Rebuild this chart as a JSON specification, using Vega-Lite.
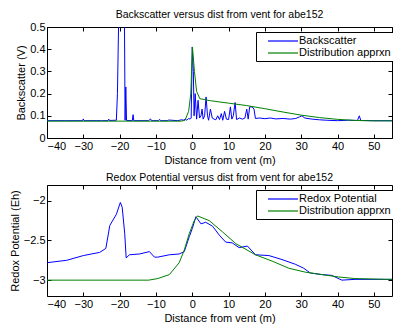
{
  "$schema": "https://vega.github.io/schema/vega-lite/v6.json",
  "padding": {"left": 8, "top": 9, "right": 1, "bottom": 0},
  "background": "white",
  "spacing": 6,
  "config": {
    "font": "Liberation Sans",
    "view": {"stroke": "black", "strokeWidth": 1},
    "axis": {
      "grid": false,
      "domain": false,
      "labelFontSize": 11,
      "labelColor": "black",
      "titleFontSize": 11,
      "titleFontWeight": "normal",
      "titleColor": "black",
      "tickColor": "black",
      "tickSize": -4,
      "labelPadding": 6,
      "titlePadding": 3
    },
    "title": {"fontSize": 10.5, "fontWeight": "normal", "color": "black", "offset": 1},
    "legend": {
      "orient": "none",
      "legendX": 209,
      "legendY": 5,
      "strokeColor": "black",
      "fillColor": "white",
      "padding": 3,
      "symbolType": "M-3,0H3",
      "symbolSize": 100,
      "symbolStrokeWidth": 1.2,
      "labelFontSize": 11,
      "labelColor": "black",
      "labelOffset": 10,
      "rowPadding": 1,
      "symbolOffset": 18
    }
  },
  "datasets": {
    "bs_blue": [
      {"d": -40, "v": 0.078}, {"d": -35, "v": 0.078}, {"d": -30.2, "v": 0.078}, {"d": -30, "v": 0.086}, {"d": -29.8, "v": 0.078},
      {"d": -25, "v": 0.078}, {"d": -23.2, "v": 0.078}, {"d": -23, "v": 0.085}, {"d": -22.8, "v": 0.079}, {"d": -20.9, "v": 0.08},
      {"d": -20.6, "v": 0.2}, {"d": -20.2, "v": 0.6}, {"d": -19.5, "v": 0.9}, {"d": -18.7, "v": 0.6}, {"d": -18.5, "v": 0.08},
      {"d": -18.3, "v": 0.23}, {"d": -18.1, "v": 0.079}, {"d": -16.5, "v": 0.078}, {"d": -16.3, "v": 0.105}, {"d": -16.1, "v": 0.078},
      {"d": -12, "v": 0.078}, {"d": -11.5, "v": 0.086}, {"d": -11.2, "v": 0.078}, {"d": -9.3, "v": 0.078}, {"d": -9, "v": 0.084},
      {"d": -8.7, "v": 0.078}, {"d": -6.7, "v": 0.078}, {"d": -6.5, "v": 0.081}, {"d": -4, "v": 0.078}, {"d": -3, "v": 0.082},
      {"d": -2.2, "v": 0.08}, {"d": -2, "v": 0.086}, {"d": -1.5, "v": 0.08}, {"d": -1, "v": 0.088}, {"d": -0.6, "v": 0.085},
      {"d": -0.3, "v": 0.09}, {"d": 0, "v": 0.41}, {"d": 0.3, "v": 0.3}, {"d": 0.5, "v": 0.1}, {"d": 0.8, "v": 0.2},
      {"d": 1.2, "v": 0.085}, {"d": 1.6, "v": 0.17}, {"d": 2.0, "v": 0.09}, {"d": 2.4, "v": 0.1}, {"d": 2.7, "v": 0.13},
      {"d": 3.0, "v": 0.085}, {"d": 3.4, "v": 0.1}, {"d": 3.8, "v": 0.185}, {"d": 4.2, "v": 0.1}, {"d": 4.5, "v": 0.08},
      {"d": 5.0, "v": 0.13}, {"d": 5.5, "v": 0.09}, {"d": 6.0, "v": 0.085}, {"d": 6.5, "v": 0.082}, {"d": 7.0, "v": 0.1},
      {"d": 7.5, "v": 0.083}, {"d": 8.0, "v": 0.11}, {"d": 8.4, "v": 0.08}, {"d": 8.9, "v": 0.12}, {"d": 9.4, "v": 0.085},
      {"d": 10.0, "v": 0.083}, {"d": 10.5, "v": 0.14}, {"d": 10.9, "v": 0.085}, {"d": 11.3, "v": 0.1}, {"d": 11.8, "v": 0.16},
      {"d": 12.2, "v": 0.083}, {"d": 13, "v": 0.09}, {"d": 13.8, "v": 0.085}, {"d": 14.5, "v": 0.09}, {"d": 15, "v": 0.13},
      {"d": 15.4, "v": 0.085}, {"d": 15.8, "v": 0.14}, {"d": 16.5, "v": 0.14}, {"d": 17, "v": 0.13}, {"d": 17.4, "v": 0.088},
      {"d": 18.5, "v": 0.09}, {"d": 20, "v": 0.087}, {"d": 21.5, "v": 0.09}, {"d": 23, "v": 0.086}, {"d": 25, "v": 0.088},
      {"d": 27, "v": 0.085}, {"d": 28.5, "v": 0.088}, {"d": 29.5, "v": 0.095}, {"d": 30.2, "v": 0.1}, {"d": 31, "v": 0.09},
      {"d": 33, "v": 0.085}, {"d": 35, "v": 0.082}, {"d": 37, "v": 0.08}, {"d": 40, "v": 0.078}, {"d": 43, "v": 0.08},
      {"d": 45.5, "v": 0.079}, {"d": 46, "v": 0.1}, {"d": 46.4, "v": 0.079}, {"d": 50, "v": 0.078}, {"d": 55, "v": 0.078}
    ],
    "bs_green": [
      {"d": -40, "v": 0.076}, {"d": -3, "v": 0.076}, {"d": -2, "v": 0.08}, {"d": -1, "v": 0.12}, {"d": -0.4, "v": 0.2},
      {"d": 0.05, "v": 0.41}, {"d": 0.6, "v": 0.3}, {"d": 1.2, "v": 0.21}, {"d": 2.1, "v": 0.177}, {"d": 5, "v": 0.168},
      {"d": 10, "v": 0.157}, {"d": 15, "v": 0.146}, {"d": 20, "v": 0.132}, {"d": 25, "v": 0.117}, {"d": 30, "v": 0.103},
      {"d": 35, "v": 0.092}, {"d": 40, "v": 0.084}, {"d": 45, "v": 0.079}, {"d": 50, "v": 0.077}, {"d": 55, "v": 0.077}
    ],
    "rx_blue": [
      {"d": -40, "v": -2.78}, {"d": -34.6, "v": -2.75}, {"d": -30, "v": -2.69}, {"d": -25.5, "v": -2.65}, {"d": -23.8, "v": -2.6},
      {"d": -22.7, "v": -2.31}, {"d": -20.9, "v": -2.17}, {"d": -19.8, "v": -2.02}, {"d": -19.3, "v": -2.08}, {"d": -18.6, "v": -2.41},
      {"d": -18.2, "v": -2.72}, {"d": -17.3, "v": -2.68}, {"d": -14.5, "v": -2.67}, {"d": -11.8, "v": -2.64}, {"d": -10.4, "v": -2.71},
      {"d": -9.5, "v": -2.71}, {"d": -6.3, "v": -2.68}, {"d": -3.6, "v": -2.67}, {"d": -2.2, "v": -2.64}, {"d": -0.8, "v": -2.45},
      {"d": 0.0, "v": -2.35}, {"d": 1.0, "v": -2.2}, {"d": 2.4, "v": -2.29}, {"d": 3.7, "v": -2.27}, {"d": 5.6, "v": -2.32},
      {"d": 7.4, "v": -2.43}, {"d": 9.2, "v": -2.52}, {"d": 11.0, "v": -2.53}, {"d": 12.9, "v": -2.59}, {"d": 15.2, "v": -2.57},
      {"d": 17.4, "v": -2.68}, {"d": 21.1, "v": -2.69}, {"d": 24.7, "v": -2.74}, {"d": 28.4, "v": -2.8}, {"d": 30.7, "v": -2.85},
      {"d": 32.5, "v": -2.91}, {"d": 35.7, "v": -2.93}, {"d": 38.4, "v": -2.94}, {"d": 41.2, "v": -3.0}, {"d": 44.8, "v": -2.99},
      {"d": 51.2, "v": -2.99}, {"d": 55, "v": -2.99}
    ],
    "rx_green": [
      {"d": -40, "v": -3.0}, {"d": -12, "v": -3.0}, {"d": -9.5, "v": -2.98}, {"d": -6.3, "v": -2.93}, {"d": -3.6, "v": -2.78},
      {"d": -2.2, "v": -2.62}, {"d": -0.8, "v": -2.41}, {"d": 0.55, "v": -2.25}, {"d": 1.45, "v": -2.19}, {"d": 4.7, "v": -2.25},
      {"d": 8.3, "v": -2.39}, {"d": 12.0, "v": -2.54}, {"d": 17.4, "v": -2.68}, {"d": 22, "v": -2.76}, {"d": 26.6, "v": -2.85},
      {"d": 31.2, "v": -2.9}, {"d": 35.7, "v": -2.93}, {"d": 40.3, "v": -2.96}, {"d": 44.8, "v": -2.98}, {"d": 53.5, "v": -2.99},
      {"d": 55, "v": -2.99}
    ]
  },
  "vconcat": [
    {
      "title": "Backscatter versus dist from vent for abe152",
      "width": 345,
      "height": 111,
      "resolve": {"axis": {"x": "independent", "y": "independent"}},
      "layer": [
        {
          "data": {"name": "bs_blue"},
          "mark": {"type": "line", "clip": true, "strokeWidth": 1},
          "encoding": {
            "x": {"field": "d", "type": "quantitative", "scale": {"domain": [-40, 55], "nice": false, "zero": false},
                  "axis": {"orient": "bottom", "values": [-40, -30, -20, -10, 0, 10, 20, 30, 40, 50], "title": "Distance from vent (m)"}},
            "y": {"field": "v", "type": "quantitative", "scale": {"domain": [0, 0.5], "nice": false},
                  "axis": {"orient": "left", "values": [0, 0.1, 0.2, 0.3, 0.4, 0.5], "format": "~g", "title": "Backscatter (V)"}},
            "color": {"datum": "Backscatter", "type": "nominal",
                      "scale": {"domain": ["Backscatter", "Distribution apprxn"], "range": ["#0000ff", "#008000"]},
                      "legend": {"title": null}}
          }
        },
        {
          "data": {"name": "bs_green"},
          "mark": {"type": "line", "clip": true, "strokeWidth": 1},
          "encoding": {
            "x": {"field": "d", "type": "quantitative",
                  "axis": {"orient": "top", "values": [-40, -30, -20, -10, 0, 10, 20, 30, 40, 50], "labels": false, "title": null}},
            "y": {"field": "v", "type": "quantitative",
                  "axis": {"orient": "right", "values": [0, 0.1, 0.2, 0.3, 0.4, 0.5], "labels": false, "title": null}},
            "color": {"datum": "Distribution apprxn", "type": "nominal"}
          }
        }
      ]
    },
    {
      "title": "Redox Potential versus dist from vent for abe152",
      "width": 345,
      "height": 111,
      "resolve": {"axis": {"x": "independent", "y": "independent"}},
      "layer": [
        {
          "data": {"name": "rx_blue"},
          "mark": {"type": "line", "clip": true, "strokeWidth": 1},
          "encoding": {
            "x": {"field": "d", "type": "quantitative", "scale": {"domain": [-40, 55], "nice": false, "zero": false},
                  "axis": {"orient": "bottom", "values": [-40, -30, -20, -10, 0, 10, 20, 30, 40, 50], "title": "Distance from vent (m)"}},
            "y": {"field": "v", "type": "quantitative", "scale": {"domain": [-3.2, -1.8], "nice": false, "zero": false},
                  "axis": {"orient": "left", "values": [-3, -2.5, -2], "format": "~g", "title": "Redox Potential (Eh)"}},
            "color": {"datum": "Redox Potential", "type": "nominal",
                      "scale": {"domain": ["Redox Potential", "Distribution apprxn"], "range": ["#0000ff", "#008000"]},
                      "legend": {"title": null}}
          }
        },
        {
          "data": {"name": "rx_green"},
          "mark": {"type": "line", "clip": true, "strokeWidth": 1},
          "encoding": {
            "x": {"field": "d", "type": "quantitative",
                  "axis": {"orient": "top", "values": [-40, -30, -20, -10, 0, 10, 20, 30, 40, 50], "labels": false, "title": null}},
            "y": {"field": "v", "type": "quantitative",
                  "axis": {"orient": "right", "values": [-3, -2.5, -2], "labels": false, "title": null}},
            "color": {"datum": "Distribution apprxn", "type": "nominal"}
          }
        }
      ]
    }
  ],
  "resolve": {"scale": {"color": "independent"}}
}
